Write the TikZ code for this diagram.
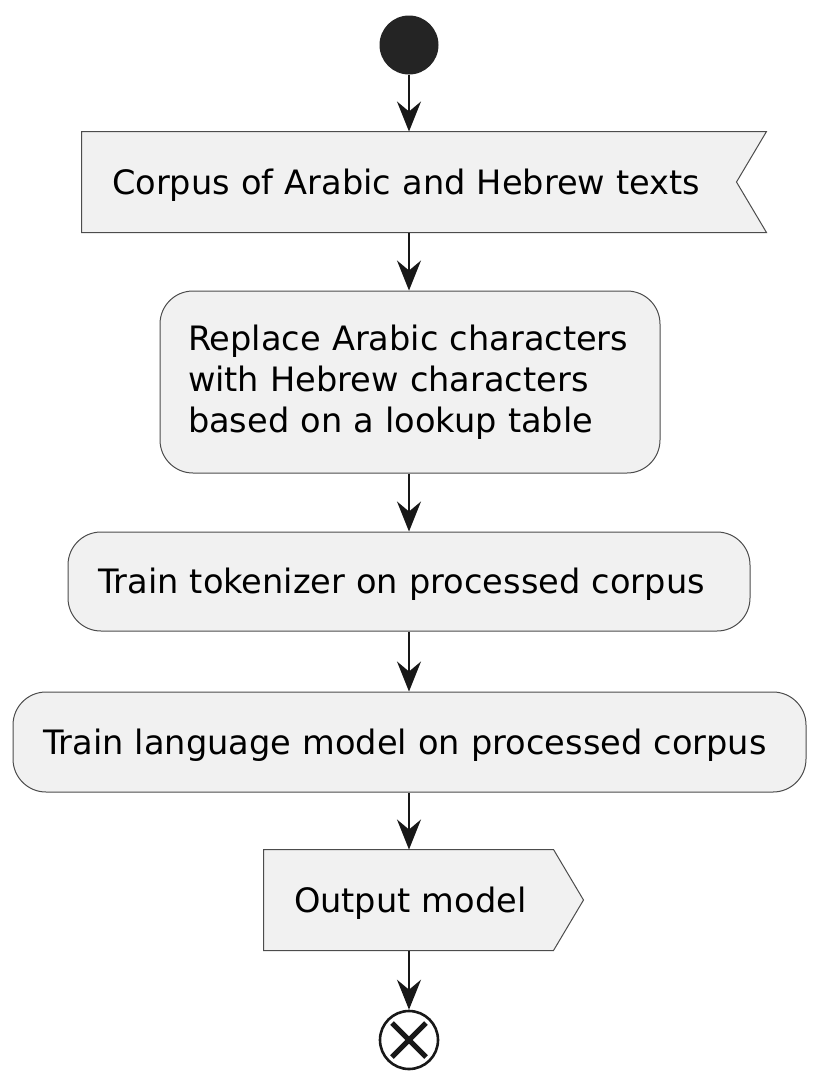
\documentclass[tikz,border=0pt]{standalone}
\usepackage{fontspec}
\setmainfont{DejaVu Sans}
\usetikzlibrary{arrows.meta,positioning,backgrounds}
\definecolor{actfill}{HTML}{F1F1F1}
\definecolor{ink}{HTML}{181818}
\tikzset{%
   dot/.style={
      circle,
      inner sep=0mm,
      outer sep=0mm,
      minimum size=59pt,
      fill=ink!95
   },
   stopdot/.style={
      circle,
      inner sep=0mm,
      minimum size=58pt,
      draw=ink,
      line width=2.6pt,
      fill=white,
      path picture={
        \draw[ink, line width=5pt]
          ([shift={(-17pt,-17pt)}]path picture bounding box.center) --
          ([shift={(17pt,17pt)}]path picture bounding box.center)
          ([shift={(-17pt,17pt)}]path picture bounding box.center) --
          ([shift={(17pt,-17pt)}]path picture bounding box.center);
      }
   },
   act/.style={
      draw=black!70,
      line width=1pt,
      fill=actfill,
      rounded corners=33pt,
      inner xsep=30pt,
      inner ysep=0pt,
      align=left,
      font={\fontsize{33.6}{41}\selectfont\hyphenpenalty=10000}
   },
   oneline/.style={
      act,
      text depth=1.5pt
   },
   flagbox/.style={
      oneline,
      draw=none,
      fill=none,
      rounded corners=0pt
   },
   flagline/.style={
      draw=black!70,
      line width=1pt,
      fill=actfill
   },
   flow/.style={
      draw=ink,
      line width=1.5pt,
      -{Stealth[length=30pt, width=24pt, inset=10pt]}
   },
}

\begin{document}
\begin{tikzpicture}[x=1pt, y=-1pt]
   \useasboundingbox (0,0) rectangle (828,1088);
   \node[dot] (start) at (409,45) {};
   \node[flagbox, text width=624pt, minimum height=100pt] (corpus) at (424,182)
      {Corpus of Arabic and Hebrew texts};
   \node[act, inner xsep=28pt, text width=444pt, minimum height=182pt] (repl) at (410,382)
      {Replace Arabic characters\\with Hebrew characters\\based on a lookup table};
   \node[oneline, text width=622pt, minimum height=99pt] (tok) at (409,581.5)
      {Train tokenizer on processed corpus};
   \node[oneline, text width=733pt, minimum height=100pt] (lm) at (409.5,742)
      {Train language model on processed corpus};
   \node[flagbox, text width=259pt, minimum height=100pt] (out) at (423.5,900)
      {Output model};
   \node[stopdot] (stop) at (409,1040) {};
   % outlines of the two flag boxes
   \begin{scope}[on background layer]
      \path[flagline] (corpus.north west) -- (corpus.north east)
         -- ([xshift=-30pt]corpus.east) -- (corpus.south east)
         -- (corpus.south west) -- cycle;
      \path[flagline] (out.north west) -- ([xshift=-30pt]out.north east)
         -- (out.east) -- ([xshift=-30pt]out.south east)
         -- (out.south west) -- cycle;
   \end{scope}
   \draw[flow] (start) -- (start |- corpus.north);
   \foreach \a/\b in {corpus/repl, repl/tok, tok/lm, lm/out}
      \draw[flow] (\a.south -| start) -- (\b.north -| start);
   \draw[flow] (out.south -| start) -- (stop.north);
\end{tikzpicture}
\end{document}
